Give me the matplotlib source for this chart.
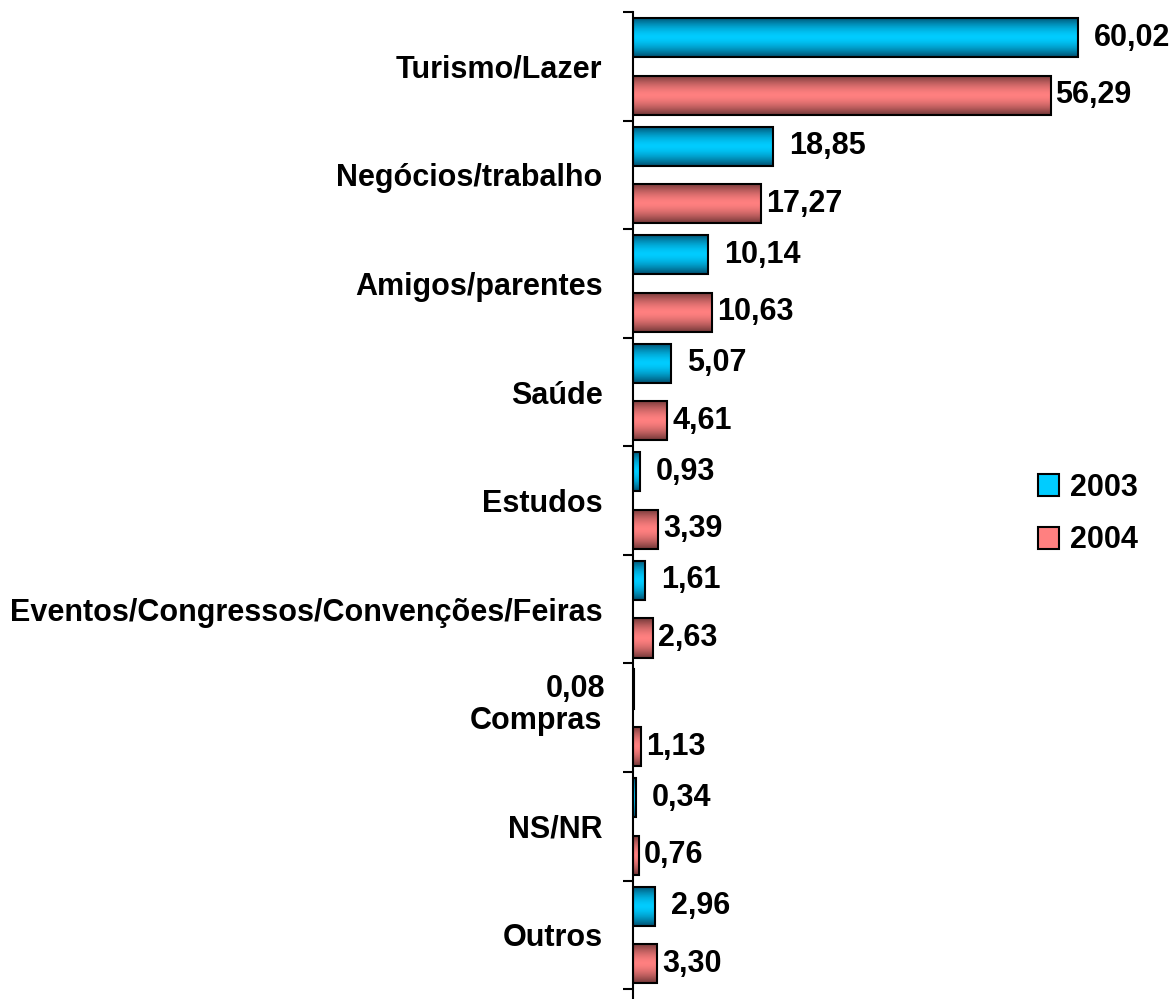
import matplotlib.pyplot as plt
import numpy as np
from matplotlib.colors import LinearSegmentedColormap
from matplotlib.patches import Patch

plt.rcParams["font.family"] = ["Liberation Sans Narrow", "Liberation Sans", "DejaVu Sans"]
plt.rcParams["font.weight"] = "bold"

categories = ["Turismo/Lazer", "Negócios/trabalho", "Amigos/parentes", "Saúde", "Estudos",
              "Eventos/Congressos/Convenções/Feiras", "Compras", "NS/NR", "Outros"]
values_2003 = [60.02, 18.85, 10.14, 5.07, 0.93, 1.61, 0.08, 0.34, 2.96]
values_2004 = [56.29, 17.27, 10.63, 4.61, 3.39, 2.63, 1.13, 0.76, 3.30]
years = ["2003", "2004"]

BLUE_MID, BLUE_DARK = "#00ccff", "#005070"
RED_MID, RED_DARK = "#ff8080", "#733838"

fig = plt.figure(figsize=(11.76, 9.99), dpi=100)
ax = fig.add_axes([633 / 1176, 0, 543 / 1176, 987 / 999])

y = np.arange(len(categories))
off, h = 0.265, 0.36

grad = np.abs(np.linspace(-1, 1, 64)).reshape(-1, 1) ** 1.6


def gradient_bars(bars, mid, dark):
    cmap = LinearSegmentedColormap.from_list("g", [mid, dark])
    for r in bars:
        x0, y0, w, hh = r.get_x(), r.get_y(), r.get_width(), r.get_height()
        im = ax.imshow(grad, extent=[x0, x0 + w, y0 + hh, y0], cmap=cmap, vmin=0, vmax=1,
                       aspect="auto", zorder=2, interpolation="bilinear")
        im.set_clip_path(r)


b1 = ax.barh(y - off, values_2003, height=h, color=BLUE_MID, edgecolor="black", linewidth=1.5, zorder=3)
b2 = ax.barh(y + off, values_2004, height=h, color=RED_MID, edgecolor="black", linewidth=1.5, zorder=3)
for r in list(b1) + list(b2):
    r.set_facecolor("none")
gradient_bars(b1, BLUE_MID, BLUE_DARK)
gradient_bars(b2, RED_MID, RED_DARK)


def fmt(v):
    return f"{v:.2f}".replace(".", ",")


for yi, v in zip(y, values_2003):
    if v < 0.2:
        ax.annotate(fmt(v), (0, yi - off), xytext=(-28, 0), textcoords="offset pixels",
                    ha="right", va="center", fontsize=22)
    else:
        ax.annotate(fmt(v), (v, yi - off), xytext=(16, 0), textcoords="offset pixels",
                    ha="left", va="center", fontsize=22)
for yi, v in zip(y, values_2004):
    ax.annotate(fmt(v), (v, yi + off), xytext=(5, 0), textcoords="offset pixels",
                ha="left", va="center", fontsize=22)

ax.set_xlim(0, 73.2)
ax.set_ylim(8.59, -0.5)
ax.set_yticks(y)
ax.set_yticklabels(categories, fontsize=22)
ax.tick_params(axis="y", which="major", length=0, pad=22)
ax.set_yticks(np.arange(-0.5, 9, 1), minor=True)
ax.tick_params(axis="y", which="minor", length=7, width=1.5, direction="out")
ax.set_xticks([])
for s in ["top", "right", "bottom"]:
    ax.spines[s].set_visible(False)
ax.spines["left"].set_linewidth(1.5)

handles = [Patch(facecolor=BLUE_MID, edgecolor="black", linewidth=1.5),
           Patch(facecolor=RED_MID, edgecolor="black", linewidth=1.5)]
fig.legend(handles, years, loc="upper left", bbox_to_anchor=(1010 / 1176, 1 - 445 / 999),
           frameon=False, fontsize=22, handlelength=0.7, handleheight=0.75,
           handletextpad=0.35, labelspacing=0.75)

fig.savefig("out.png", dpi=100)
